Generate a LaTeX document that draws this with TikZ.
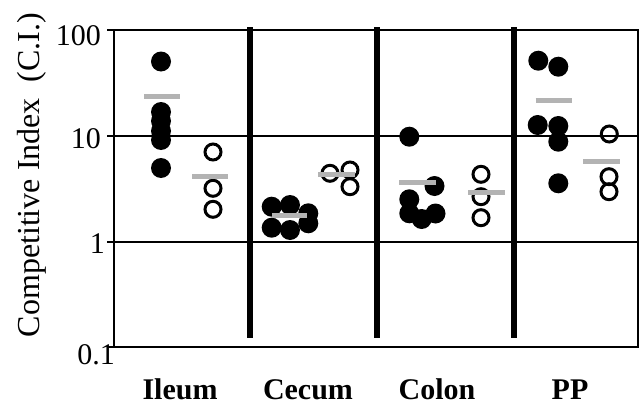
\documentclass[tikz,border=0pt]{standalone}
\usepackage{fontspec}
\setmainfont{Liberation Serif}
\usepackage{xcolor}
\usepackage{tikz}
\definecolor{ink}{HTML}{000000}
\definecolor{meanbar}{HTML}{B3B3B3}
\tikzset{
  grid/.style={draw=ink, line width=2pt},
  divider/.style={draw=ink, line width=5.5pt},
  mean/.style={draw=meanbar, line width=5pt},
  wt/.style={fill=ink},
  mut/.style={draw=ink, line width=3pt},
  ticklab/.style={
    font=\fontsize{30}{32}\selectfont,
    anchor=east,
    inner sep=0pt
  },
  organ/.style={
    font=\fontsize{30}{32}\selectfont\bfseries,
    anchor=base,
    inner sep=0pt
  }
}

\begin{document}
\begin{tikzpicture}[x=1pt, y=-1pt]
  \useasboundingbox (0,0) rectangle (641,407);

  % frame and decade lines
  \foreach \y in {30,135.5,241.5,347}
    \draw[grid] (107,\y) -- (639,\y);
  \draw[grid] (114,30) -- (114,347);
  \draw[grid] (638,30) -- (638,347);

  % thick lines between the organs
  \foreach \x in {250,377,514}
    \draw[divider] (\x,27) -- (\x,338);

  \node[ticklab] (t100) at (101,36) {100};
  \node[ticklab] (t10) at (101,139) {10};
  \node[ticklab] (t1) at (105,244) {1};
  \node[ticklab] (t01) at (115,355) {0.1};

  \node[font=\fontsize{32}{34}\selectfont, rotate=90, inner sep=0pt] (ylab) at (32,175)
    {Competitive Index\ \ (C.I.)};

  % filled dots
  \foreach \x/\y in {161/61.5, 161/112, 161/121, 161/131, 161/140, 161/168,
                     271.7/206.7, 290/205, 308.3/213.3, 271.7/227.7, 290/230, 308.3/223.3,
                     409.3/136.7, 434.5/186, 409.3/199.3, 409.3/213.3, 421.7/219, 435.5/213.5,
                     538.3/60.7, 558.3/66.7, 537.7/125, 558.3/126, 558.3/141.7, 558.3/183.3}
    \fill[wt] (\x,\y) circle (10pt);

  % open circles
  \foreach \x/\y in {213/152, 213/188.3, 213/209.3,
                     330/173.3, 350/170, 350/186.7,
                     481/174.3, 481/196.7, 481/217.7,
                     609.3/134, 609/176.7, 609/191.7}
    \draw[mut] (\x,\y) circle (8pt);

  % means
  \draw[mean] (144,96) -- (180,96);
  \draw[mean] (192,176) -- (228,176);
  \draw[mean] (272,215) -- (307,215);
  \draw[mean] (318,174) -- (355,174);
  \draw[mean] (399,182.7) -- (436,182.7);
  \draw[mean] (468,192.7) -- (505,192.7);
  \draw[mean] (535.7,100) -- (571.7,100);
  \draw[mean] (583,161.7) -- (620,161.7);

  \node[organ] (ileum) at (180,399) {Ileum};
  \node[organ] (cecum) at (308,399) {Cecum};
  \node[organ] (colon) at (437,399) {Colon};
  \node[organ] (pp) at (570,399) {PP};
\end{tikzpicture}
\end{document}
